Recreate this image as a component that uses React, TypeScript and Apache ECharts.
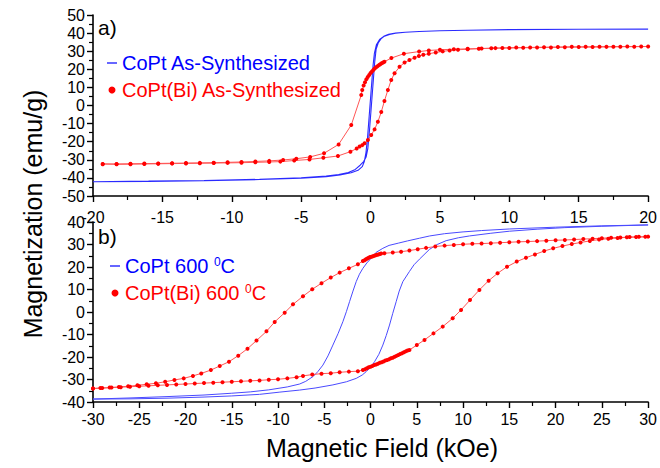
import React, { useEffect, useRef } from "react";
import * as echarts from "echarts";

// ---------- data (H in kOe, M in emu/g) ----------
const seriesNames = [
  "CoPt As-Synthesized",
  "CoPt(Bi) As-Synthesized",
  "CoPt 600 °C",
  "CoPt(Bi) 600 °C",
];

const topFieldRange = [-20, 20];
const topMagRange = [-50, 50];
const bottomFieldRange = [-30, 30];
const bottomMagRange = [-40, 40];

// panel a) CoPt As-Synthesized, descending then ascending branch
const blueTopDown = [
  [20, 42.2], [15, 42.1], [10, 41.9], [7, 41.6], [5, 41.3], [3.5, 40.9], [2.5, 40.5], [1.8, 40.0],
  [1.37, 39.3], [1.0, 38.3], [0.75, 36.8], [0.55, 34.5], [0.4, 31], [0.3, 24], [0.2, 14], [0.1, 4],
  [0.0, -6], [-0.1, -16], [-0.2, -24], [-0.32, -28.5], [-0.5, -31], [-0.75, -33], [-1.1, -35.3],
  [-1.6, -37.0], [-2.3, -38.2], [-3.2, -39.0], [-5, -40.0], [-8, -40.8], [-12, -41.4], [-16, -41.8], [-20, -42.1],
];
const blueTopUp = [
  [-20, -42.2], [-16, -41.9], [-12, -41.5], [-8, -40.9], [-5, -40.2], [-3.2, -39.4], [-2.2, -38.4],
  [-1.4, -37.2], [-0.9, -35.8], [-0.6, -33.8], [-0.45, -31], [-0.33, -26], [-0.22, -18], [-0.12, -8],
  [-0.02, 2], [0.08, 12], [0.18, 22], [0.28, 29], [0.42, 33.5], [0.65, 36.5], [0.95, 38.2], [1.3, 39.3],
  [1.8, 40.0], [2.5, 40.5], [3.5, 40.9], [5, 41.3], [7, 41.6], [10, 41.9], [15, 42.1], [20, 42.2],
];

// panel a) CoPt(Bi) As-Synthesized
const redTopDown = [
  [20, 32.6], [19, 32.5], [18, 32.5], [17, 32.4], [16, 32.3], [15, 32.3], [14, 32.2], [13, 32.1],
  [12, 32.0], [11, 31.9], [10, 31.8], [9, 31.7], [8, 31.5], [7, 31.3], [6, 31.1], [5, 30.8],
  [4.2, 30.4], [3.5, 29.8], [2.4, 28.6], [1.5, 26.2],
  [1.0, 24.2], [0.9, 23.8], [0.8, 23.3], [0.7, 22.8], [0.6, 22.3], [0.5, 21.7], [0.4, 21.1],
  [0.3, 20.4], [0.2, 19.6], [0.1, 18.8], [0.0, 17.9], [-0.1, 16.9], [-0.2, 15.8], [-0.3, 14.5],
  [-0.4, 12.9], [-0.5, 11.0], [-0.6, 8.6], [-0.67, 5.8],
  [-1.39, -10.8], [-2.3, -21.5], [-3.35, -26.4], [-4.35, -28.4], [-5.35, -29.4], [-6.3, -30.1],
  [-7.3, -30.6], [-8.3, -30.9], [-9.3, -31.2], [-10.3, -31.4], [-11.3, -31.6], [-12.3, -31.7],
  [-13.3, -31.8], [-14.3, -31.9], [-15.3, -32.0], [-16.3, -32.1], [-17.3, -32.2], [-18.3, -32.3], [-19.3, -32.3],
];
const redTopUp = [
  [-19.3, -32.5], [-18.3, -32.5], [-17.3, -32.4], [-16.3, -32.3], [-15.3, -32.2], [-14.3, -32.1],
  [-13.3, -32.0], [-12.3, -31.9], [-11.3, -31.8], [-10.3, -31.7], [-9.3, -31.6], [-8.3, -31.4],
  [-7.3, -31.2], [-6.5, -31.0], [-5.5, -30.4], [-4.4, -29.8], [-3.4, -28.9], [-2.35, -27.9],
  [-1.45, -25.5], [-1.0, -23.8], [-0.79, -22.7], [-0.6, -21.9], [-0.43, -20.9], [-0.19, -19.1],
  [0.05, -16.3], [0.29, -13.2], [0.53, -9.0], [0.77, -3.6], [1.0, 2.5], [1.25, 8.6], [1.49, 14.1],
  [1.73, 17.8], [2.09, 21.4], [2.45, 23.7], [2.8, 25.1], [3.17, 26.4], [3.48, 27.3], [3.8, 28.0],
  [4.2, 28.6], [4.7, 29.3], [5.2, 29.9], [5.7, 30.4], [6.3, 30.8], [7.0, 31.1], [7.8, 31.4],
  [8.7, 31.6], [9.5, 31.8], [10.5, 32.0], [11.5, 32.1], [12.5, 32.2], [13.5, 32.3], [14.5, 32.4],
  [15.5, 32.4], [16.5, 32.5], [17.5, 32.5], [18.5, 32.6], [19.5, 32.6],
];

// panel b) CoPt 600 °C
const blueBotDown = [
  [30, 38.7], [25, 38.3], [20, 37.7], [15, 36.9], [12, 36.2], [10, 35.6], [8, 34.8], [6.4, 33.8],
  [5.3, 32.8], [4, 31.6], [3, 30.6], [2, 29.6], [1.33, 28.3], [0.6, 26.5], [0.07, 23.9], [-0.4, 21.8],
  [-0.83, 19.4], [-1.2, 16.8], [-1.55, 13.5], [-1.9, 9.3], [-2.27, 4.6], [-2.6, 0.3], [-2.99, -4.3],
  [-3.5, -9.5], [-4.07, -14.7], [-4.6, -19.5], [-5.15, -23.6], [-5.7, -26.5], [-6.22, -28.7],
  [-7.0, -30.8], [-7.66, -32.0], [-9, -33.3], [-11, -34.6], [-13, -35.5], [-15, -36.1], [-18, -36.9],
  [-22, -37.6], [-26, -38.2], [-30, -38.7],
];
const blueBotUp = [
  [-30, -38.8], [-26, -38.6], [-22, -38.3], [-18, -37.8], [-15, -37.3], [-12, -36.6], [-9.8, -35.6],
  [-7.66, -34.7], [-6, -33.8], [-4.07, -32.4], [-2.6, -31.0], [-1.55, -29.5], [-0.9, -28.0],
  [-0.47, -26.5], [0, -24.5], [0.43, -22.1], [0.9, -18.8], [1.33, -14.7], [1.7, -10.4], [2.05, -5.8],
  [2.4, -0.6], [2.77, 4.6], [3.1, 9.3], [3.49, 13.5], [4.2, 18.0], [4.7, 21.0], [5.29, 23.5],
  [6.36, 27.8], [7.2, 30.0], [8.17, 31.7], [9.5, 33.0], [10.7, 33.8], [13, 35.0], [15, 35.9],
  [18, 36.8], [21, 37.5], [25, 38.1], [30, 38.7],
];

// panel b) CoPt(Bi) 600 °C
const redBotDown = [
  [30, 33.5], [29, 33.4], [28, 33.3], [27, 33.1], [26, 33.0], [25, 32.8], [24, 32.6], [23, 32.4],
  [22, 32.2], [21, 32.0], [20, 31.9], [19, 31.7], [18, 31.5], [17, 31.3], [16, 31.2], [15, 31.0],
  [14, 30.8], [13, 30.6], [12, 30.4], [11, 30.3], [10, 30.1], [9, 29.8], [8, 29.5], [7, 29.1],
  [6, 28.5], [5.1, 27.9], [4.2, 27.3], [3.3, 26.8], [2.4, 26.4], [1.5, 26.1],
  [1.15, 26.0], [1.0, 25.8], [0.85, 25.6], [0.7, 25.4], [0.55, 25.2], [0.4, 25.0], [0.25, 24.8],
  [0.1, 24.6], [-0.05, 24.4], [-0.2, 24.1], [-0.35, 23.8], [-0.5, 23.4], [-0.65, 23.0], [-0.83, 22.7],
  [-1.37, 21.2], [-2.34, 19.4], [-3.34, 17.5], [-4.3, 15.3], [-5.3, 12.8], [-6.3, 10.1], [-7.3, 7.0],
  [-8.38, 3.4], [-9.28, -0.3], [-10.36, -4.4], [-11.25, -8.6], [-12.33, -12.7], [-13.3, -16.3],
  [-14.3, -19.4], [-15.3, -22.1], [-16.3, -24.0], [-17.26, -25.8], [-18.3, -27.3], [-19.2, -28.4],
  [-20.2, -29.5], [-21.2, -30.2], [-22.2, -31.0], [-23.2, -31.7], [-24.2, -32.1], [-25.2, -32.6],
  [-26.2, -33.0], [-27.2, -33.3], [-28.2, -33.6], [-29.2, -33.8], [-30, -34.0],
];
const redBotUp = [
  [-30, -34.0], [-29, -33.8], [-28, -33.6], [-27, -33.4], [-26, -33.2], [-25, -33.0], [-24, -32.8],
  [-23, -32.6], [-22, -32.4], [-21, -32.2], [-20, -32.0], [-19, -31.8], [-18, -31.6], [-17, -31.4],
  [-16, -31.2], [-15, -31.0], [-14, -30.8], [-13, -30.6], [-12, -30.4], [-11, -30.1], [-10, -29.9],
  [-9, -29.5], [-8, -29.0], [-7.3, -28.4], [-6.3, -27.8], [-5.3, -27.4], [-4.3, -27.2], [-3.34, -26.8],
  [-2.34, -26.5], [-1.37, -26.3],
  [-0.83, -25.8], [-0.6, -25.4], [-0.4, -25.0], [-0.2, -24.6], [0, -24.3], [0.2, -24.0], [0.4, -23.6],
  [0.6, -23.3], [0.8, -23.0], [1.0, -22.6], [1.2, -22.3], [1.4, -22.0], [1.6, -21.6], [1.8, -21.3],
  [2.0, -21.0], [2.2, -20.6], [2.4, -20.3], [2.6, -19.9], [2.8, -19.5], [3.0, -19.1], [3.2, -18.7],
  [3.4, -18.3], [3.6, -17.9], [3.8, -17.5], [4.0, -17.1], [4.2, -16.9],
  [5.0, -14.7], [5.83, -12.4], [6.8, -9.5], [7.8, -6.5], [8.88, -2.8], [9.78, 0.9], [10.75, 5.3],
  [11.76, 9.8], [12.76, 13.9], [13.73, 17.2], [14.75, 20.1], [15.8, 22.4], [16.8, 24.1], [17.77, 25.6],
  [18.77, 27.1], [19.74, 28.3], [20.74, 29.3], [21.75, 30.2], [22.7, 30.9], [23.7, 31.6], [24.7, 32.2],
  [25.7, 32.6], [26.7, 32.9], [27.7, 33.2], [28.7, 33.3], [29.7, 33.4],
];

const FONT = "'Liberation Sans', Arial, Helvetica, sans-serif";
const BLUE = "#0000ff";
const RED = "#ff0000";

function xAxisCfg(grid: number, range: number[], margin: number) {
  return {
    type: "value",
    gridIndex: grid,
    min: range[0],
    max: range[1],
    interval: 5,
    axisLine: { show: true, onZero: false, lineStyle: { color: "#000", width: 1.6 } },
    axisTick: { show: true, inside: false, length: 6, lineStyle: { color: "#000", width: 1.4 } },
    minorTick: { show: true, splitNumber: 2, length: 4, lineStyle: { color: "#000", width: 1.2 } },
    splitLine: { show: false },
    minorSplitLine: { show: false },
    axisLabel: { color: "#000", fontSize: 16, fontFamily: FONT, margin, hideOverlap: false },
  };
}
function yAxisCfg(grid: number, range: number[]) {
  return {
    type: "value",
    gridIndex: grid,
    min: range[0],
    max: range[1],
    interval: 10,
    axisLine: { show: true, onZero: false, lineStyle: { color: "#000", width: 1.6 } },
    axisTick: { show: true, inside: false, length: 6, lineStyle: { color: "#000", width: 1.4 } },
    minorTick: { show: true, splitNumber: 2, length: 4, lineStyle: { color: "#000", width: 1.2 } },
    splitLine: { show: false },
    axisLabel: { color: "#000", fontSize: 16, fontFamily: FONT, margin: 8 },
  };
}

const legendText = {
  fontSize: 20,
  fontFamily: FONT,
  lineHeight: 20,
  rich: {
    n: { fontSize: 20, lineHeight: 20, fontFamily: FONT },
    sup: { fontSize: 12, lineHeight: 12, verticalAlign: "top", fontFamily: FONT },
  },
};
const legendFormatter = (name: string) =>
  name.indexOf(" °C") >= 0 ? "{n|" + name.replace(" °C", " ") + "}{sup|0}{n|C}" : name;

const DASH_ICON = "path://M0,0H10V1.2H0Z";

export default function App() {
  const ref = useRef<HTMLDivElement>(null);
  useEffect(() => {
    if (!ref.current) return;
    const chart = echarts.init(ref.current, undefined, { renderer: "svg" });
    const option: any = {
      animation: false,
      backgroundColor: "#fff",
      grid: [
        { left: 93, top: 15, width: 556, height: 181 },
        { left: 93, top: 222, width: 556, height: 180 },
      ],
      xAxis: [xAxisCfg(0, topFieldRange, 13), xAxisCfg(1, bottomFieldRange, 9)],
      yAxis: [yAxisCfg(0, topMagRange), yAxisCfg(1, bottomMagRange)],
      legend: [
        {
          orient: "vertical",
          left: 107,
          top: 53,
          padding: 0,
          itemGap: 7,
          itemWidth: 10,
          itemHeight: 7,
          selectedMode: false,
          formatter: legendFormatter,
          textStyle: legendText,
          data: [
            { name: seriesNames[0], icon: DASH_ICON, textStyle: { color: BLUE } },
            { name: seriesNames[1], icon: "circle", textStyle: { color: RED } },
          ],
        },
        {
          orient: "vertical",
          left: 110,
          top: 256,
          padding: 0,
          itemGap: 7,
          itemWidth: 10,
          itemHeight: 7,
          selectedMode: false,
          formatter: legendFormatter,
          textStyle: legendText,
          data: [
            { name: seriesNames[2], icon: DASH_ICON, textStyle: { color: BLUE } },
            { name: seriesNames[3], icon: "circle", textStyle: { color: RED } },
          ],
        },
      ],
      graphic: [
        {
          type: "text",
          x: 98,
          y: 27,
          style: { text: "a)", fontSize: 21, fontFamily: FONT, fill: "#000", align: "left", verticalAlign: "middle" },
        },
        {
          type: "text",
          x: 98,
          y: 236,
          style: { text: "b)", fontSize: 21, fontFamily: FONT, fill: "#000", align: "left", verticalAlign: "middle" },
        },
        {
          type: "text",
          x: 382,
          y: 448,
          style: {
            text: "Magnetic Field (kOe)",
            fontSize: 25,
            fontFamily: FONT,
            fill: "#000",
            align: "center",
            verticalAlign: "middle",
          },
        },
        {
          type: "text",
          x: 33,
          y: 214,
          rotation: Math.PI / 2,
          style: {
            text: "Magnetization (emu/g)",
            fontSize: 25,
            fontFamily: FONT,
            fill: "#000",
            align: "center",
            verticalAlign: "middle",
          },
        },
      ],
      series: [
        {
          name: seriesNames[0],
          type: "line",
          xAxisIndex: 0,
          yAxisIndex: 0,
          data: [...blueTopDown, ...blueTopUp],
          symbol: "none",
          showSymbol: false,
          lineStyle: { color: "#2a2aff", width: 1.1 },
          itemStyle: { color: BLUE },
          z: 2,
        },
        {
          name: seriesNames[1],
          type: "line",
          xAxisIndex: 0,
          yAxisIndex: 0,
          data: [...redTopDown, ...redTopUp],
          symbol: "circle",
          symbolSize: 4,
          showSymbol: true,
          showAllSymbol: true,
          lineStyle: { color: "#ff5555", width: 1 },
          itemStyle: { color: RED },
          z: 3,
        },
        {
          name: seriesNames[2],
          type: "line",
          xAxisIndex: 1,
          yAxisIndex: 1,
          data: [...blueBotDown, ...blueBotUp],
          symbol: "none",
          showSymbol: false,
          lineStyle: { color: "#4a4aff", width: 1 },
          itemStyle: { color: BLUE },
          z: 2,
        },
        {
          name: seriesNames[3],
          type: "line",
          xAxisIndex: 1,
          yAxisIndex: 1,
          data: [...redBotDown, ...redBotUp],
          symbol: "circle",
          symbolSize: 4,
          showSymbol: true,
          showAllSymbol: true,
          lineStyle: { color: "#ff5555", width: 1 },
          itemStyle: { color: RED },
          z: 3,
        },
      ],
    };
    chart.setOption(option);
    return () => chart.dispose();
  }, []);
  return <div ref={ref} style={{ width: 660, height: 468, position: "absolute", left: 0, top: 0 }} />;
}
